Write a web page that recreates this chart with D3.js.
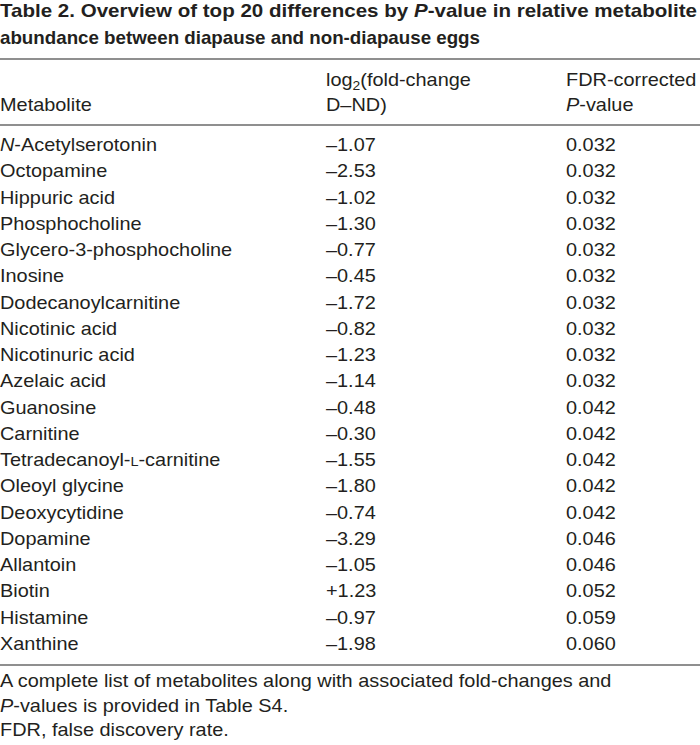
<!DOCTYPE html>
<html>
<head>
<meta charset="utf-8">
<script src="https://cdn.jsdelivr.net/npm/d3@7"></script>
<style>
  body { margin: 0; background: #fff; }
  svg text { font-family: "Liberation Sans", Arial, sans-serif; fill: #231f20; }
</style>
</head>
<body>
<div id="table"></div>
<script>
// Table values
var metabolites = ["N-Acetylserotonin", "Octopamine", "Hippuric acid", "Phosphocholine",
  "Glycero-3-phosphocholine", "Inosine", "Dodecanoylcarnitine", "Nicotinic acid",
  "Nicotinuric acid", "Azelaic acid", "Guanosine", "Carnitine", "Tetradecanoyl-L-carnitine",
  "Oleoyl glycine", "Deoxycytidine", "Dopamine", "Allantoin", "Biotin", "Histamine", "Xanthine"];
var foldChange = [-1.07, -2.53, -1.02, -1.30, -0.77, -0.45, -1.72, -0.82, -1.23, -1.14,
  -0.48, -0.30, -1.55, -1.80, -0.74, -3.29, -1.05, 1.23, -0.97, -1.98];
var pValues = [0.032, 0.032, 0.032, 0.032, 0.032, 0.032, 0.032, 0.032, 0.032, 0.032,
  0.042, 0.042, 0.042, 0.042, 0.042, 0.046, 0.046, 0.052, 0.059, 0.060];
var notes = ["A complete list of metabolites along with associated fold-changes and",
  "P-values is provided in Table S4.", "FDR, false discovery rate."];

var width = 700, height = 745;
var fontSize = 18.6, stretch = 1.07; // the reference text is a bit wider than it is tall

var svg = d3.select("#table").append("svg")
  .attr("width", width).attr("height", height);

// column positions
var colX = d3.scaleOrdinal().domain(["name", "fc", "p"]).range([0, 326, 566]);

// row baselines
var y = d3.scalePoint().domain(metabolites).range([151, 650]);

// places a body text at x, y with the slight horizontal stretch
function place(sel, x, yy) {
  return sel.attr("transform", "translate(" + x + "," + yy + ") scale(" + stretch + ",1)");
}

// title
var title = svg.append("g")
  .style("font-family", "'Liberation Sans Narrow', 'Arial Narrow', 'Liberation Sans', sans-serif")
  .style("font-weight", "bold")
  .style("font-size", "19px");
var t1 = title.append("text").attr("x", 0).attr("y", 17).attr("textLength", 697).attr("lengthAdjust", "spacingAndGlyphs");
t1.append("tspan").text("Table 2. Overview of top 20 differences by ");
t1.append("tspan").style("font-style", "italic").text("P");
t1.append("tspan").text("-value in relative metabolite");
title.append("text").attr("x", 0).attr("y", 44).attr("textLength", 480).attr("lengthAdjust", "spacingAndGlyphs")
  .text("abundance between diapause and non-diapause eggs");

// rules
var rules = [59, 125, 665];
svg.selectAll("line.rule").data(rules).enter().append("line")
  .attr("class", "rule")
  .attr("x1", 0).attr("x2", width)
  .attr("y1", function(d) { return d; }).attr("y2", function(d) { return d; })
  .attr("stroke", "#8f8f8f").attr("stroke-width", 1.8);

// header
var head = svg.append("g").style("font-size", fontSize + "px");
place(head.append("text"), colX("name"), 111).text("Metabolite");
var h2 = place(head.append("text"), colX("fc"), 86);
h2.append("tspan").text("log");
h2.append("tspan").attr("dy", 4).style("font-size", "13px").text("2");
h2.append("tspan").attr("dy", -4).text("(fold-change");
place(head.append("text"), colX("fc"), 111).text("D\u2013ND)");
place(head.append("text"), colX("p"), 86).text("FDR-corrected");
var h3 = place(head.append("text"), colX("p"), 111);
h3.append("tspan").style("font-style", "italic").text("P");
h3.append("tspan").text("-value");

// body rows
var rows = svg.append("g").style("font-size", fontSize + "px")
  .selectAll("g.row").data(metabolites).enter().append("g")
  .attr("class", "row")
  .attr("transform", function(d) { return "translate(0," + y(d) + ")"; });

place(rows.append("text"), colX("name"), 0).each(function(d) {
  var el = d3.select(this);
  if (d.indexOf("N-") == 0) {
    el.append("tspan").style("font-style", "italic").text("N");
    el.append("tspan").text(d.slice(1));
  } else if (d.indexOf("-L-") > 0) {
    // small-caps L
    var k = d.indexOf("-L-");
    el.append("tspan").text(d.slice(0, k + 1));
    el.append("tspan").style("font-size", "13.5px").text("L");
    el.append("tspan").text(d.slice(k + 2));
  } else {
    el.text(d);
  }
});

place(rows.append("text"), colX("fc"), 0).text(function(d, i) {
  var v = foldChange[i];
  return (v < 0 ? "\u2013" : "+") + Math.abs(v).toFixed(2);
});

place(rows.append("text"), colX("p"), 0).text(function(d, i) {
  return pValues[i].toFixed(3);
});

// footnotes
var foot = svg.append("g").style("font-size", fontSize + "px");
foot.selectAll("text").data(notes).enter().append("text")
  .attr("transform", function(d, i) { return "translate(0," + (687 + i * 24.5) + ") scale(" + stretch + ",1)"; })
  .each(function(d) {
    var el = d3.select(this);
    if (d.indexOf("P-") == 0) {
      el.append("tspan").style("font-style", "italic").text("P");
      el.append("tspan").text(d.slice(1));
    } else {
      el.text(d);
    }
  });
</script>
</body>
</html>
